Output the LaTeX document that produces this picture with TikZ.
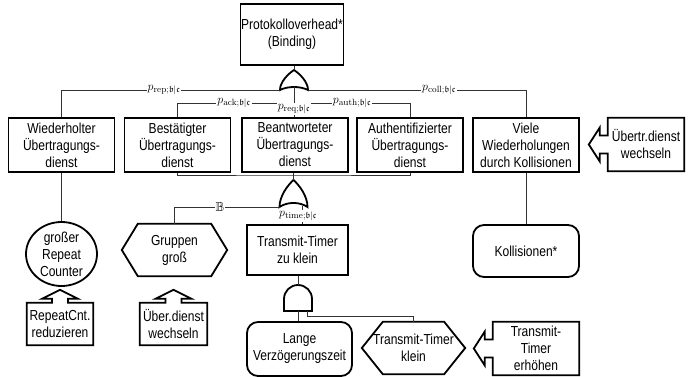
\documentclass[tikz,border=0pt]{standalone}
\usepackage{amssymb}
\usepackage[no-math]{fontspec}
\setmainfont{Liberation Sans}[FakeStretch=0.83]
\usetikzlibrary{calc,shapes.geometric}
\newcommand\boxfont{\fontsize{14.5}{17}\selectfont}
\newcommand\labfont{\fontsize{13}{15}\selectfont}
\newcommand\plab[1]{$p_{\mathrm{#1};\mathfrak{b}|\mathfrak{c}}$}

\tikzset{
  conn/.style={draw=black!80, line width=0.8pt},
  box/.style={draw, line width=1.8pt, align=center, inner sep=0pt, font=\boxfont,
    minimum width=106pt, minimum height=54pt},
  rbox/.style={box, rounded corners=11pt},
  bare/.style={align=center, inner sep=0pt, font=\boxfont},
  outline/.style={draw, line width=1.8pt, line join=miter},
  lab/.style={fill=white, inner sep=1pt, font=\labfont},
  gateline/.style={draw, line width=1.8pt, fill=white},
  orgate/.pic={
    \path[gateline] (-14,0) .. controls (-14,-8) and (-6,-16) .. (0,-20)
      .. controls (6,-16) and (14,-8) .. (14,0)
      .. controls (6,-4) and (-6,-4) .. cycle;
  },
  andgate/.pic={
    \path[gateline] (-14,0) -- (-14,-12) arc[start angle=180, end angle=360, radius=14]
      -- (14,0) -- cycle;
  },
}

\begin{document}
\begin{tikzpicture}[x=1pt,y=-1pt]
\useasboundingbox (0,0) rectangle (689,377);

% ---- top event and first layer ----
\node[box, minimum width=103pt, minimum height=61pt] (top) at (292,34.5) {Protokolloverhead*\\(Binding)};

\node[box] (wied)  at (61.5,145)  {Wiederholter\\Übertragungs-\\dienst};
\node[box] (best)  at (177.5,145) {Bestätigter\\Übertragungs-\\dienst};
\node[box] (bean)  at (295,145)   {Beantworteter\\Übertragungs-\\dienst};
\node[box] (auth)  at (410,145)   {Authentifizierter\\Übertragungs-\\dienst};
\node[box] (viele) at (526,145)   {Viele\\Wiederholungen\\durch Kollisionen};

% OR gate below the top event
\pic at (294,90) {orgate};
\coordinate (g1top) at (294,70);
\coordinate (g1L) at (280,90);
\coordinate (g1R) at (308,90);
\coordinate (g1bot) at (294,87);
\coordinate (j1) at (294,103);

\draw[conn] (top.south -| g1top) -- (g1top);
\draw[conn] (g1L) -| (wied.north);
\draw[conn] (g1R) -| (viele.north);
\draw[conn] (best.north) |- (auth.north |- j1) -- (auth.north);
\draw[conn] (g1bot) -- (bean.north -| g1bot);
\node[lab] (lrep)  at (164,90)  {\plab{rep}};
\node[lab] (lcoll) at (439,90)  {\plab{coll}};
\node[lab] (lack)  at (234,103) {\plab{ack}};
\node[lab] (lauth) at (352,103) {\plab{auth}};
\node[lab] (lreq)  at (294,109) {\plab{req}};

% ---- shared subtree of the three service variants ----
\pic[yscale=1.35] at (293.5,207) {orgate};
\coordinate (g2top) at (293.5,180);
\coordinate (g2L) at (280,207);
\coordinate (g2R) at (302,206);
\coordinate (j2) at (293.5,175);

\draw[conn] (best.south) |- (j2) -| (auth.south);
\draw[conn] (bean.south -| j2) -- (g2top);

\node[bare, minimum width=105pt, minimum height=52pt] (grp) at (174.5,250) {Gruppen\\groß};
\draw[outline] (grp.west) -- ([xshift=16pt]grp.north west) -- ([xshift=-16pt]grp.north east)
  -- (grp.east) -- ([xshift=-16pt]grp.south east) -- ([xshift=16pt]grp.south west) -- cycle;

\node[box, minimum width=101pt, minimum height=50pt] (trans) at (297.5,250) {Transmit-Timer\\zu klein};

\draw[conn] (g2L) -| (grp.north);
\node[lab] (lbb) at (220,207) {$\mathbb{B}$};
\draw[conn] (g2R) -- (trans.north -| g2R);
\node[lab] (ltime) at (298,216) {\plab{time}};

% ---- repeat counter branch ----
\node[draw, line width=1.8pt, ellipse, minimum width=71pt, minimum height=64pt, inner sep=0pt,
  align=center, font=\boxfont] (rep) at (61.5,254) {großer\\Repeat\\Counter};
\draw[conn] (wied.south) -- (rep.north);

\node[bare, minimum width=66pt, minimum height=42pt] (rcnt) at (60,324) {RepeatCnt.\\reduzieren};
\node[bare, minimum width=67pt, minimum height=42pt] (udw) at (173.5,324) {Über.dienst\\wechseln};
\foreach \n in {rcnt,udw}{
  \draw[outline] (\n.north west) -- ($(\n.north)+(-8,0)$) -- ++(0,-4) -- ++(-10,0)
    -- ($(\n.north)+(0,-13)$) -- ($(\n.north)+(18,-4)$) -- ++(-10,0) -- ++(0,4)
    -- (\n.north east) -- (\n.south east) -- (\n.south west) -- cycle;
}

% ---- collisions branch ----
\node[rbox, minimum height=52pt] (koll) at (526,251) {Kollisionen*};
\draw[conn] (viele.south) -- (koll.north);

\node[bare, minimum width=76pt, minimum height=53pt] (uew) at (646,144.5) {Übertr.dienst\\wechseln};
\node[bare, minimum width=86pt, minimum height=53pt] (tte) at (536,348.5) {Transmit-\\Timer\\erhöhen};
\foreach \n in {uew,tte}{
  \draw[outline] (\n.north east) -- (\n.north west) -- ($(\n.west)+(0,-9)$) -- ++(-8,0)
    -- ++(0,-8) -- ($(\n.west)+(-19,0)$) -- ($(\n.west)+(-8,17)$) -- ++(0,-8) -- ++(8,0)
    -- (\n.south west) -- (\n.south east) -- cycle;
}

% ---- transmit timer branch ----
\pic at (298,311) {andgate};
\coordinate (a1top) at (298,285);
\coordinate (a1bot) at (298,311);
\coordinate (a1R) at (307,311);
\coordinate (a1turn) at (307,316);

\node[rbox, minimum width=105pt] (lange) at (299.5,349) {Lange\\Verzögerungszeit};
\node[bare, minimum width=103pt, minimum height=52pt] (tth) at (413.5,348) {Transmit-Timer\\klein};
\draw[outline] (tth.west) -- ([xshift=21pt]tth.north west) -- ([xshift=-21pt]tth.north east)
  -- (tth.east) -- ([xshift=-21pt]tth.south east) -- ([xshift=21pt]tth.south west) -- cycle;

\draw[conn] (trans.south -| a1top) -- (a1top);
\draw[conn] (a1bot) -- (lange.north -| a1bot);
\draw[conn] (a1R) -- (a1turn) -| (tth.north);
\end{tikzpicture}
\end{document}
